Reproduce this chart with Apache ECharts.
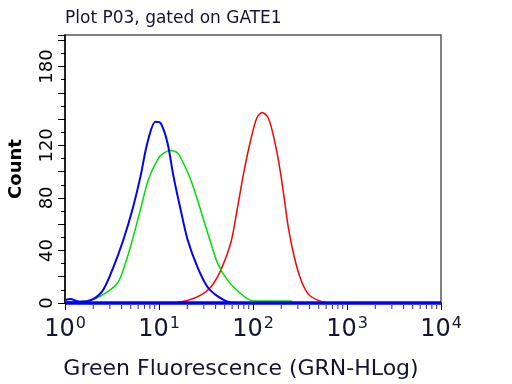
<!DOCTYPE html>
<html><head><meta charset="utf-8">
<script src="https://cdn.jsdelivr.net/npm/echarts@6/dist/echarts.min.js"></script>
<style>html,body{margin:0;padding:0;background:#fff}#c{width:512px;height:384px}</style>
</head><body><div id="c"></div>
<script>
// Fluorescence values (x) and counts (y) for each histogram
const blueX = [1.0, 1.13, 1.45, 1.99, 2.55, 3.26, 4.17, 5.21, 6.34, 7.53, 9.18, 10.4, 12.3, 14.3, 17.0, 20.2, 25.8, 33.0, 42.2, 54, 70, 10000];
const blueY = [2, 3, 1, 3, 10, 27, 48, 71, 96, 122, 138, 137, 122, 96, 71, 48, 27, 12, 5, 1, 0, 0];
const greenX = [1.05, 1.72, 2.37, 3.60, 4.38, 5.21, 6.34, 7.72, 9.64, 11.2, 13.3, 15.8, 18.3, 21.7, 25.8, 29.9, 35.5, 42.2, 54.0, 69.1, 95.2, 122, 255, 261];
const greenY = [1, 1.5, 5, 15, 30, 48, 71, 94, 109, 114, 116, 114, 106, 94, 78, 63, 46, 30, 17, 9, 2, 1.5, 1.5, 0];
const redX = [13.9, 20.2, 27.8, 35.5, 45.5, 58.2, 67.4, 80.1, 95.2, 110, 125, 145, 164, 185, 209, 237, 275, 326, 397, 495, 604];
const redY = [0, 2, 6, 12, 25, 46, 70, 100, 125, 141, 145, 141, 128, 110, 86, 58, 35, 17, 6, 2, 0];
const yLabelValues = [0, 40, 80, 120, 180];
const xMinorTicks = [2,3,4,5,6,7,8,9,20,30,40,50,60,70,80,90,200,300,400,500,600,700,800,900,2000,3000,4000,5000,6000,7000,8000,9000];

const pair = (xs, ys) => xs.map((x, i) => [x, ys[i]]);
const FONT = 'DejaVu Sans';
const TXT = '#141430';
const chart = echarts.init(document.getElementById('c'), null, {renderer: 'canvas'});
chart.setOption({
  animation: false,
  backgroundColor: '#fff',
  title: {
    text: 'Plot P03, gated on GATE1', left: 60, top: 5,
    textStyle: {fontFamily: FONT, fontSize: 17, fontWeight: 'normal', color: TXT}
  },
  grid: {left: 65, right: 71, top: 35, bottom: 81, show: true, borderColor: '#555', borderWidth: 1.5,
         outerBoundsMode: 'none', containLabel: false},
  xAxis: {
    type: 'log', logBase: 10, min: 1, max: 10000,
    name: 'Green Fluorescence (GRN-HLog)', nameLocation: 'middle', nameGap: 55,
    nameTextStyle: {fontFamily: FONT, fontSize: 22, color: TXT, padding: [0, 24, 0, 0]},
    axisLine: {show: true, lineStyle: {color: '#000', width: 1.5}},
    axisTick: {show: true, inside: false, length: 7, lineStyle: {color: '#000'}},
    splitLine: {show: false},
    axisLabel: {
      margin: 13,
      formatter: v => '{b|10}{s|' + Math.round(Math.log10(v)) + '}',
      rich: {
        b: {fontFamily: FONT, fontSize: 24, color: TXT, lineHeight: 28},
        s: {fontFamily: FONT, fontSize: 16, color: TXT, verticalAlign: 'top', lineHeight: 28, padding: [0, 0, 14, 1]}
      }
    }
  },
  yAxis: {
    type: 'value', min: 0, max: 204, interval: 20,
    name: 'Count', nameLocation: 'middle', nameGap: 40, nameRotate: 90,
    nameTextStyle: {fontFamily: FONT, fontSize: 18, fontWeight: 'bold', color: '#000'},
    axisLine: {show: true, lineStyle: {color: '#000', width: 1.5}},
    axisTick: {show: true, length: 7, lineStyle: {color: '#000'}},
    minorTick: {show: true, splitNumber: 2, length: 4, lineStyle: {color: '#000'}},
    splitLine: {show: false},
    axisLabel: {
      rotate: 90, margin: 9,
      fontFamily: FONT, fontSize: 18, color: '#000',
      formatter: v => yLabelValues.indexOf(v) >= 0 ? String(v) : ''
    }
  },
  series: [
    {type: 'scatter', data: xMinorTicks.map(x => [x, 0]), symbol: 'rect', symbolSize: [1, 4], symbolOffset: [0, 4],
     itemStyle: {color: '#000'}, clip: false, silent: true, z: 1},
    {type: 'line', data: pair(redX, redY), showSymbol: false, smooth: 0.3, clip: false,
     lineStyle: {color: '#ff0000', width: 1.5}, z: 2},
    {type: 'line', data: pair(greenX, greenY), showSymbol: false, smooth: 0.3, clip: false,
     lineStyle: {color: '#00e000', width: 1.5}, z: 3},
    {type: 'line', data: pair(blueX, blueY), showSymbol: false, smooth: 0.3, clip: false,
     lineStyle: {color: '#0000ff', width: 2}, z: 4},
    {type: 'line', data: [[1, 0], [10000, 0]], showSymbol: false, clip: false,
     lineStyle: {color: '#0000ff', width: 3.5}, z: 5}
  ]
});
</script></body></html>
